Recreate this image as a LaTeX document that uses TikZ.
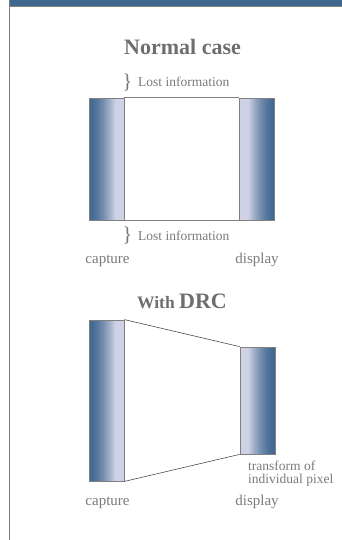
\documentclass[tikz,border=0pt]{standalone}
\usepackage{fontspec}
\setmainfont{Liberation Serif}
\usepackage{tikz}
\usetikzlibrary{positioning}

\definecolor{banner}{RGB}{62,103,142}
\definecolor{edgegray}{RGB}{128,128,128}
\definecolor{titlegray}{RGB}{110,110,110}
\definecolor{textgray}{RGB}{122,122,122}
\definecolor{bardark}{RGB}{66,104,145}
\definecolor{barlight}{RGB}{206,210,228}

\begin{document}
\begin{tikzpicture}[x=1pt, y=-1pt,
  heading/.style = {text=titlegray, font=\fontsize{22}{26}\selectfont\bfseries, inner sep=0pt, anchor=base},
  caption/.style = {text=textgray, font=\fontsize{15}{17}\selectfont, inner sep=0pt, anchor=base},
  note/.style = {text=textgray, font=\fontsize{13.5}{13}\selectfont, inner sep=0pt},
  brace/.style = {text=textgray, font=\fontsize{21}{22}\selectfont, inner sep=0pt},
  capbar/.style = {draw=edgegray, line width=0.8pt, minimum width=35pt, inner sep=0pt,
    path picture={
      \fill[barlight] (path picture bounding box.south west) rectangle (path picture bounding box.north east);
      \foreach \i in {0,...,25}{
        \pgfmathsetmacro\mix{100*(1-(\i/26)^1.6)}
        \fill[bardark!\mix!barlight] ([xshift=\i*1pt]path picture bounding box.south west) rectangle ([xshift={(\i+1.2)*1pt}]path picture bounding box.north west);}}},
  dispbar/.style = {draw=edgegray, line width=0.8pt, minimum width=35pt, inner sep=0pt,
    path picture={
      \fill[barlight] (path picture bounding box.south west) rectangle (path picture bounding box.north east);
      \foreach \i in {0,...,25}{
        \pgfmathsetmacro\mix{100*(1-(\i/26)^1.6)}
        \fill[bardark!\mix!barlight] ([xshift=-\i*1pt]path picture bounding box.south east) rectangle ([xshift={-(\i+1.2)*1pt}]path picture bounding box.north east);}}},
  link/.style = {draw=black!70, line width=0.6pt}]
\useasboundingbox (0,0) rectangle (342,540);
% frame
\fill[banner] (10,0) rectangle (342,6);
\draw[edgegray, line width=1.2pt] (10,6.6) -- (342,6.6);
\draw[edgegray, line width=1.5pt] (9.6,0) -- (9.6,540);

% normal case
\node[heading] (normaltitle) at (182.5,55) {Normal case};
\node[capbar, minimum height=122pt] (capnormal) at (106.5,159) {};
\node[dispbar, minimum height=122pt] (dispnormal) at (257.2,159) {};
\draw[edgegray, line width=0.8pt] (capnormal.north east) -- (dispnormal.north west);
\draw[edgegray, line width=0.8pt] (capnormal.south east) -- (dispnormal.south west);
\node[brace] (losttop) at (127.5,82.5) {\}};
\node[note, anchor=base west] (losttoptext) at (138,87) {Lost information};
\node[brace] (lostbot) at (127.5,235.5) {\}};
\node[note, anchor=base west] (lostbottext) at (138,240) {Lost information};
\node[caption] (capturenormal) at (107.5,263) {capture};
\node[caption] (displaynormal) at (257,263) {display};

% with DRC
\node[heading] (drctitle) at (182,308) {\fontsize{17.5}{20}\selectfont With \fontsize{22}{26}\selectfont DRC};
\node[capbar, minimum height=161pt] (capdrc) at (106.5,400.5) {};
\node[dispbar, minimum height=107pt] (dispdrc) at (257.5,400.5) {};
\draw[link] (capdrc.north east) -- (dispdrc.north west);
\draw[link] (capdrc.south east) -- (dispdrc.south west);
\node[note, anchor=base west, align=left] (pixelnote) at (248,483) {transform of\\individual pixel};
\node[caption] (capturedrc) at (107.5,505) {capture};
\node[caption] (displaydrc) at (257,505) {display};
\end{tikzpicture}
\end{document}
